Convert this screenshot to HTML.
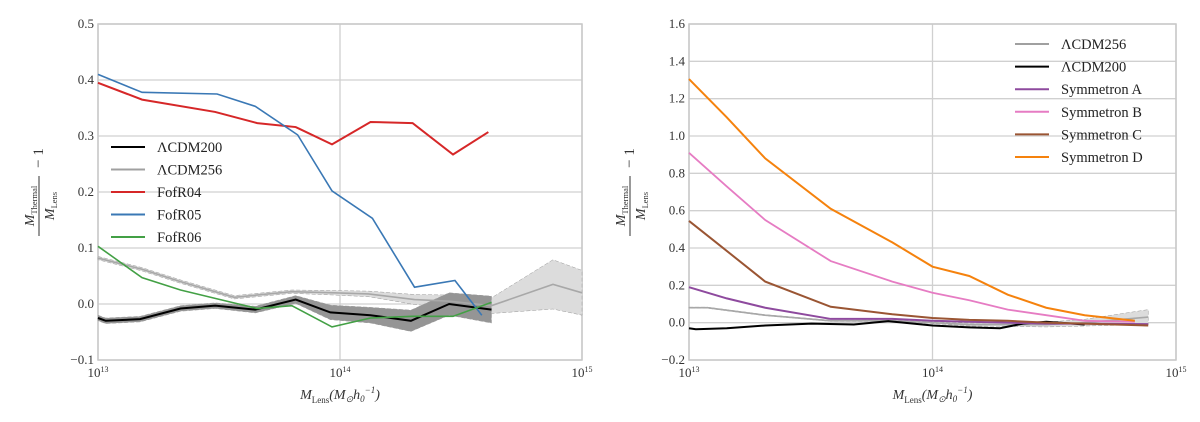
<!DOCTYPE html>
<html><head><meta charset="utf-8"><style>
body{margin:0;background:#fff;}
svg{display:block;font-family:"Liberation Serif",serif;}
</style></head><body>
<svg id="fig" width="1200" height="422"></svg>
<script>
// ---- Left panel data (x = log10 mass) ----
const L_red_x=[13.0,13.182,13.484,13.658,13.817,13.967,14.126,14.300,14.467,14.613];
const L_red_y=[0.395,0.365,0.343,0.323,0.316,0.285,0.325,0.323,0.267,0.307];
const L_blue_x=[13.0,13.182,13.492,13.650,13.825,13.967,14.134,14.308,14.475,14.586];
const L_blue_y=[0.41,0.378,0.375,0.353,0.302,0.202,0.153,0.03,0.042,-0.02];
const L_green_x=[13.0,13.182,13.341,13.484,13.658,13.801,13.967,14.126,14.300,14.467,14.626];
const L_green_y=[0.103,0.047,0.025,0.01,-0.008,-0.003,-0.041,-0.025,-0.022,-0.022,0.003];
const L_black_x=[13.0,13.032,13.174,13.341,13.484,13.650,13.817,13.960,14.126,14.293,14.451,14.626];
const L_black_y=[-0.025,-0.03,-0.027,-0.008,-0.003,-0.01,0.008,-0.015,-0.02,-0.03,0.0,-0.01];
const L_black_err=[0.005,0.005,0.005,0.005,0.005,0.006,0.007,0.013,0.014,0.019,0.02,0.024];
const L_gray_x=[13.0,13.182,13.341,13.563,13.801,13.975,14.118,14.308,14.451,14.626,14.880,15.0];
const L_gray_y=[0.082,0.062,0.04,0.012,0.022,0.02,0.018,0.008,0.005,-0.003,0.035,0.02];
const L_gray_err=[0.003,0.003,0.003,0.003,0.003,0.004,0.005,0.009,0.011,0.014,0.044,0.04];
// ---- Right panel data ----
const R_orange_x=[13.0,13.155,13.313,13.582,13.835,14.0,14.151,14.309,14.467,14.625,14.831];
const R_orange_y=[1.305,1.1,0.88,0.61,0.43,0.3,0.25,0.15,0.08,0.04,0.01];
const R_pink_x=[13.0,13.155,13.313,13.582,13.835,14.0,14.151,14.309,14.467,14.625,14.831];
const R_pink_y=[0.91,0.73,0.55,0.33,0.22,0.16,0.12,0.07,0.04,0.01,0.005];
const R_brown_x=[13.0,13.092,13.313,13.582,13.835,14.0,14.151,14.309,14.467,14.625,14.886];
const R_brown_y=[0.545,0.45,0.22,0.085,0.045,0.025,0.015,0.01,0.0,-0.005,-0.015];
const R_purple_x=[13.0,13.155,13.313,13.582,13.835,14.0,14.151,14.309,14.467,14.625,14.886];
const R_purple_y=[0.19,0.13,0.08,0.02,0.02,0.01,0.005,0.0,-0.005,-0.005,-0.008];
const R_gray_x=[13.0,13.076,13.313,13.582,13.835,14.0,14.151,14.309,14.467,14.625,14.886];
const R_gray_y=[0.08,0.08,0.04,0.01,0.01,0.0,-0.01,-0.01,-0.01,0.0,0.03];
const R_gray_err=[0.003,0.003,0.003,0.003,0.004,0.005,0.008,0.01,0.013,0.018,0.04];
const R_black_x=[13.0,13.028,13.155,13.313,13.503,13.677,13.819,14.0,14.151,14.277,14.372,14.467,14.625];
const R_black_y=[-0.03,-0.035,-0.03,-0.015,-0.005,-0.01,0.008,-0.015,-0.025,-0.03,-0.005,0.005,-0.01];
const L_yticks=[-0.1,0.0,0.1,0.2,0.3,0.4,0.5];
const R_yticks=[-0.2,0.0,0.2,0.4,0.6,0.8,1.0,1.2,1.4,1.6];
const xticks=[13,14,15];

const NS="http://www.w3.org/2000/svg";
const svg=document.getElementById('fig');
function mk(tag,attrs,parent){const e=document.createElementNS(NS,tag);for(const k in attrs)e.setAttribute(k,attrs[k]);(parent||svg).appendChild(e);return e;}

function panel(p){
  const g=mk('g',{});
  
  
  const X=v=>p.x0+(v-13)/2*(p.x1-p.x0);
  const Y=v=>p.y1-(v-p.ymin)/(p.ymax-p.ymin)*(p.y1-p.y0);
  p.yticks.forEach(t=>{
    const l=mk('line',{x1:p.x0,x2:p.x1,y1:Y(t),y2:Y(t),stroke:'#d0d0d0','stroke-width':1.3},g);
    
    
    const tx=mk('text',{x:p.x0-4,y:Y(t)+4,'text-anchor':'end','font-size':13,fill:'#333'},g);
    
    
    tx.textContent=(t<0?'\u2212':'')+Math.abs(t).toFixed(1);
  });
  xticks.forEach(t=>{
    const l=mk('line',{x1:X(t),x2:X(t),y1:p.y0,y2:p.y1,stroke:'#d0d0d0','stroke-width':1.3},g);
    
    
    const tx=mk('text',{x:X(t),y:p.y1+17,'text-anchor':'middle','font-size':13,fill:'#333'},g);
    
    
    tx.innerHTML='10<tspan dy="-5" font-size="8">'+t+'</tspan>';
  });
  const fr=mk('rect',{x:p.x0,y:p.y0,width:p.x1-p.x0,height:p.y1-p.y0,fill:'none',stroke:'#c8c8c8','stroke-width':1.5},g);
  
  
  p.bands.forEach(b=>{
    let d='M';
    b.x.forEach((v,i)=>{d+=X(v)+','+Y(b.y[i]+b.e[i])+' L';});
    for(let i=b.x.length-1;i>=0;i--)d+=X(b.x[i])+','+Y(b.y[i]-b.e[i])+(i?' L':' Z');
    const pa=mk('path',{d:d,fill:b.fill,stroke:'#999','stroke-width':0.5,'stroke-dasharray':'4,2'},g);
    
    
  });
  p.series.forEach(s=>{
    const pts=s.x.map((v,i)=>X(v)+','+Y(s.y[i])).join(' ');
    const pl=mk('polyline',{points:pts,fill:'none',stroke:s.c,'stroke-width':s.w||1.6},g);
    
    
  });
  p.legend.forEach((e,i)=>{
    const y=p.ly+i*p.ldy;
    const l=mk('line',{x1:p.lx,x2:p.lx+34,y1:y,y2:y,stroke:e.c,'stroke-width':2},g);
    
    
    const t=mk('text',{x:p.lx+46,y:y+5,'font-size':14.5,fill:'#222'},g);
    
    
    t.textContent=e.t;
  });
  const xl=mk('text',{x:(p.x0+p.x1)/2,y:p.y1+39,'text-anchor':'middle','font-size':14,'font-style':'italic',fill:'#333'},g);
  
  
  xl.innerHTML='M<tspan dy="4" font-size="9" font-style="normal">Lens</tspan><tspan dy="-4">(M</tspan><tspan dy="3" font-size="9">\u2299</tspan><tspan dy="-3">h</tspan><tspan dy="3" font-size="9">0</tspan><tspan dy="-9" font-size="9">\u22121</tspan><tspan dy="6">)</tspan>';
  const yg=mk('g',{transform:'translate('+(p.x0-64)+','+((p.y0+p.y1)/2)+') rotate(-90)'},g);
  
  
  const t1=mk('text',{x:-14,y:0,'text-anchor':'middle','font-size':14,'font-style':'italic',fill:'#333'},yg);
  t1.innerHTML='M<tspan dy="3" font-size="8.5" font-style="normal">Thermal</tspan>';
  mk('line',{x1:-44,x2:16,y1:5,y2:5,stroke:'#333','stroke-width':1},yg);
  const t2=mk('text',{x:-14,y:20,'text-anchor':'middle','font-size':14,'font-style':'italic',fill:'#333'},yg);
  t2.innerHTML='M<tspan dy="3" font-size="8.5" font-style="normal">Lens</tspan>';
  const t3=mk('text',{x:34,y:9,'text-anchor':'middle','font-size':15,fill:'#333'},yg);
  t3.textContent='\u2212 1';
}

panel({name:'left-panel',x0:98,x1:582,y0:24,y1:360,ymin:-0.1,ymax:0.5,yticks:L_yticks,
  bands:[{name:'lcdm256-band',x:L_gray_x,y:L_gray_y,e:L_gray_err,fill:'#dcdcdc'},
         {name:'lcdm200-band',x:L_black_x,y:L_black_y,e:L_black_err,fill:'#959595'}],
  series:[{name:'lcdm256-line',x:L_gray_x,y:L_gray_y,c:'#a8a8a8'},
          {name:'lcdm200-line',x:L_black_x,y:L_black_y,c:'#000',w:2},
          {name:'fofr04-line',x:L_red_x,y:L_red_y,c:'#d62728',w:2},
          {name:'fofr05-line',x:L_blue_x,y:L_blue_y,c:'#3a78b5'},
          {name:'fofr06-line',x:L_green_x,y:L_green_y,c:'#43a045'}],
  legend:[{t:'ΛCDM200',c:'#000'},{t:'ΛCDM256',c:'#a0a0a0'},{t:'FofR04',c:'#d62728'},{t:'FofR05',c:'#3a78b5'},{t:'FofR06',c:'#43a045'}],
  lx:111,ly:147,ldy:22.5});

panel({name:'right-panel',x0:689,x1:1176,y0:24,y1:360,ymin:-0.2,ymax:1.6,yticks:R_yticks,
  bands:[{name:'lcdm256-band',x:R_gray_x,y:R_gray_y,e:R_gray_err,fill:'#dcdcdc'}],
  series:[{name:'lcdm256-line',x:R_gray_x,y:R_gray_y,c:'#a8a8a8'},
          {name:'lcdm200-line',x:R_black_x,y:R_black_y,c:'#000',w:2},
          {name:'symmetron-a-line',x:R_purple_x,y:R_purple_y,c:'#8e4a9e',w:2},
          {name:'symmetron-b-line',x:R_pink_x,y:R_pink_y,c:'#e67cc3',w:1.8},
          {name:'symmetron-c-line',x:R_brown_x,y:R_brown_y,c:'#9a5533',w:2},
          {name:'symmetron-d-line',x:R_orange_x,y:R_orange_y,c:'#f5820d',w:2}],
  legend:[{t:'ΛCDM256',c:'#a0a0a0'},{t:'ΛCDM200',c:'#000'},{t:'Symmetron A',c:'#8e4a9e'},{t:'Symmetron B',c:'#e67cc3'},{t:'Symmetron C',c:'#9a5533'},{t:'Symmetron D',c:'#f5820d'}],
  lx:1015,ly:44,ldy:22.6});
</script>
</body></html>
